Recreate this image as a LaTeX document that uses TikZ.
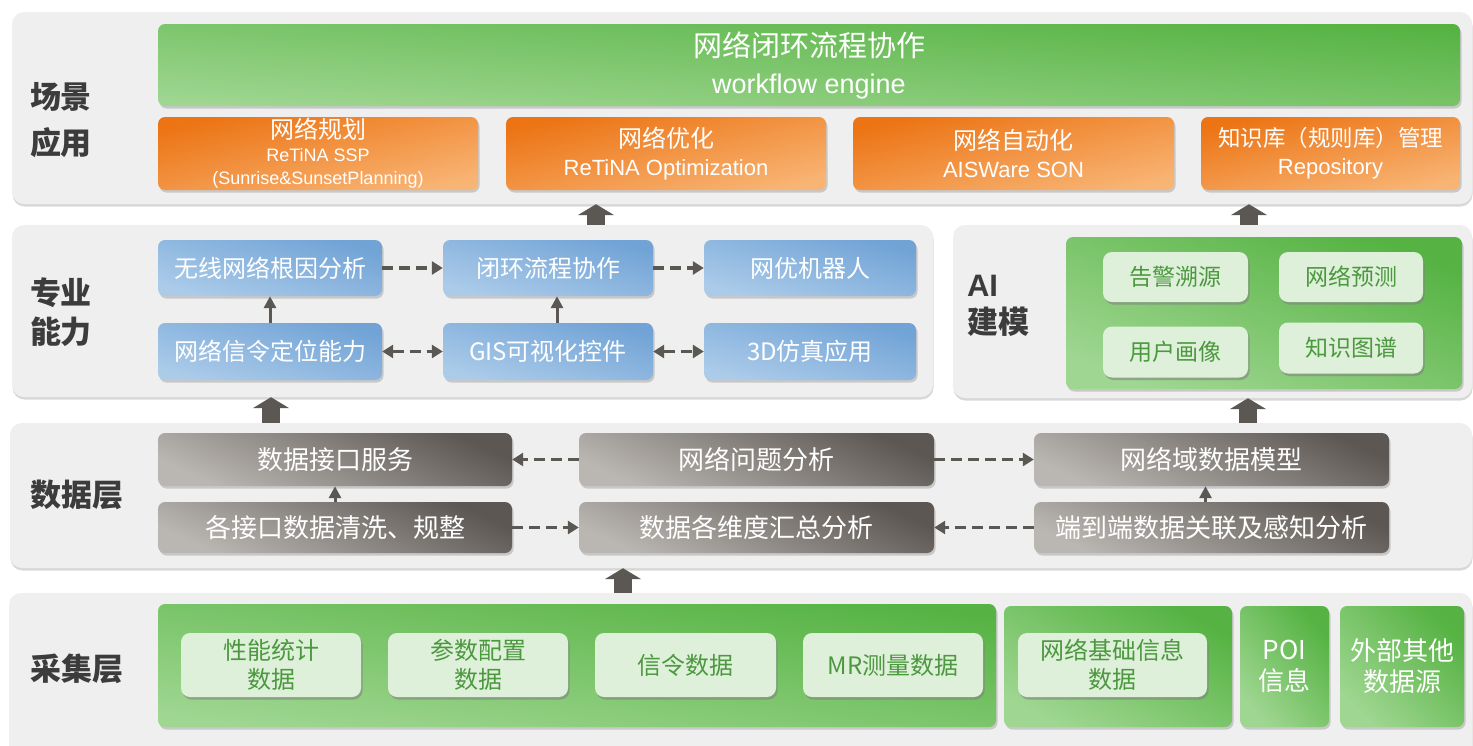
\documentclass[tikz,border=0pt]{standalone}
\usepackage{fontspec}
\setmainfont{Noto Sans CJK SC}
\newfontfamily\arialfont{Liberation Sans}
\usetikzlibrary{shadows,arrows.meta}
\definecolor{panelgray}{HTML}{EFEFEF}
\definecolor{gdark}{HTML}{56B343}
\definecolor{glight}{HTML}{9FD691}
\definecolor{odark}{HTML}{EC7414}
\definecolor{olight}{HTML}{F8B474}
\definecolor{bdark}{HTML}{71A3D6}
\definecolor{blight}{HTML}{ABCBE9}
\definecolor{ddark}{HTML}{5C5753}
\definecolor{dlight}{HTML}{BAB6B2}
\definecolor{boxgreen}{HTML}{DEF0D9}
\definecolor{txtgreen}{HTML}{4C983F}
\definecolor{arrowgray}{HTML}{5B5753}
\definecolor{labelgray}{HTML}{3C3C3C}

\tikzset{
  panel/.style={fill=panelgray, rounded corners=12pt, inner sep=0pt,
    drop shadow={shadow xshift=0.5pt, shadow yshift=-2.5pt, opacity=.3}},
  box/.style={rounded corners=7pt, inner sep=0pt, align=center, text=white,
    drop shadow={shadow xshift=1.5pt, shadow yshift=-2.5pt, opacity=.35}},
  greenbox/.style={box, top color=gdark, bottom color=glight, shading angle=-#1},
  greenbox/.default=20,
  orangebox/.style={box, top color=odark, bottom color=olight, shading angle=13,
    font=\fontsize{24}{28}\selectfont},
  bluebox/.style={box, top color=bdark, bottom color=blight, shading angle=-16,
    font=\fontsize{24}{28}\selectfont},
  databox/.style={box, top color=ddark, bottom color=dlight, shading angle=-25,
    font=\fontsize{26}{30}\selectfont},
  lightbox/.style={box, fill=boxgreen, text=txtgreen, rounded corners=9pt,
    drop shadow={shadow xshift=1.5pt, shadow yshift=-2.5pt, opacity=.3}},
  layerlabel/.style={text=labelgray, font=\bfseries\fontsize{31}{46}\selectfont, align=center},
  dasharrow/.style={draw=arrowgray, line width=3.5pt, dash pattern=on 11pt off 6pt,
    -{Triangle[length=11pt,width=13pt]}},
  dashboth/.style={dasharrow, {Triangle[length=11pt,width=13pt]}-{Triangle[length=11pt,width=13pt]}},
  solidarrow/.style={draw=arrowgray, line width=3pt, -{Triangle[length=12pt,width=12pt]}},
  blockarrow/.style={draw=arrowgray, line width=18pt, -{Triangle[length=11pt,width=36pt]}}
}

\begin{document}
\begin{tikzpicture}[x=1pt,y=-1pt]
\useasboundingbox[fill=white] (0,0) rectangle (1473,745);

% layer panels
\node[panel, minimum width=1460pt, minimum height=192pt] (scene) at (742,108) {};
\node[panel, minimum width=921pt, minimum height=172pt] (prof) at (472.5,311) {};
\node[panel, minimum width=519pt, minimum height=173pt] (ai) at (1212.5,311.5) {};
\node[panel, minimum width=1462pt, minimum height=145pt] (data) at (741,495.5) {};
\node[panel, minimum width=1463pt, minimum height=170pt] (coll) at (740.5,678) {};

% layer names
\node[layerlabel] (lscene) at (61,120) {场景\\应用};
\node[layerlabel, font=\bfseries\fontsize{31}{39}\selectfont] (lprof) at (61,312) {专业\\能力};
\node[layerlabel, align=left, font=\bfseries\fontsize{31}{37}\selectfont] (lai) at (998,306)
  {{\arialfont\bfseries AI}\\建模};
\node[layerlabel] (ldata) at (77,495) {数据层};
\node[layerlabel] (lcoll) at (77,669) {采集层};

% scene layer
\node[greenbox=4, minimum width=1302pt, minimum height=82pt, font=\fontsize{29}{37}\selectfont]
  (flow) at (809,65) {网络闭环流程协作\\{\arialfont\fontsize{27}{37}\selectfont workflow engine}};
\node[orangebox, minimum width=320pt, minimum height=73pt] (plan) at (318,153.5)
  {网络规划\\[-5pt]{\arialfont\fontsize{18}{23}\selectfont ReTiNA SSP}\\[-5pt]
   {\arialfont\fontsize{18}{23}\selectfont (Sunrise\&SunsetPlanning)}};
\node[orangebox, minimum width=320pt, minimum height=73pt] (opt) at (666,153.5)
  {网络优化\\{\arialfont\fontsize{22}{28}\selectfont ReTiNA Optimization}};
\node[orangebox, minimum width=321pt, minimum height=73pt] (son) at (1013.5,153.5)
  {网络自动化\\{\arialfont\fontsize{22}{28}\selectfont AISWare SON}};
\node[orangebox, minimum width=259pt, minimum height=73pt, font=\fontsize{22.5}{28}\selectfont]
  (repo) at (1330.5,153.5) {知识库（规则库）管理\\{\arialfont\fontsize{22}{28}\selectfont Repository}};

% professional capability
\node[bluebox, minimum width=224pt, minimum height=56pt] (rca) at (270,268) {无线网络根因分析};
\node[bluebox, minimum width=210pt, minimum height=56pt] (loop) at (548,268) {闭环流程协作};
\node[bluebox, minimum width=212pt, minimum height=56pt] (robot) at (810,268) {网优机器人};
\node[bluebox, minimum width=224pt, minimum height=57pt] (sig) at (270,351.5) {网络信令定位能力};
\node[bluebox, minimum width=210pt, minimum height=57pt] (gis) at (548,351.5) {GIS可视化控件};
\node[bluebox, minimum width=212pt, minimum height=57pt] (sim) at (810,351.5) {3D仿真应用};

\draw[dasharrow] (rca.east) -- (loop.west);
\draw[dasharrow] (loop.east) -- (robot.west);
\draw[dashboth] (sig.east) -- (gis.west);
\draw[dashboth] (gis.east) -- (sim.west);
\draw[solidarrow] (sig.north) -- (rca.south);
\draw[solidarrow] ([xshift=9pt]gis.north) -- ([xshift=9pt]loop.south);

% AI modelling
\node[greenbox=21, minimum width=396pt, minimum height=152pt] (aibg) at (1264,313) {};
\node[lightbox, minimum width=145pt, minimum height=50pt, font=\fontsize{23}{28}\selectfont]
  (alarm) at (1175.5,277) {告警溯源};
\node[lightbox, minimum width=144pt, minimum height=50pt, font=\fontsize{23}{28}\selectfont]
  (pred) at (1351,277) {网络预测};
\node[lightbox, minimum width=145pt, minimum height=51pt, font=\fontsize{23}{28}\selectfont]
  (user) at (1175.5,352) {用户画像};
\node[lightbox, minimum width=144pt, minimum height=51pt, font=\fontsize{23}{28}\selectfont]
  (kg) at (1351,348) {知识图谱};

% data layer
\node[databox, minimum width=354pt, minimum height=53pt] (dif) at (335,459.5) {数据接口服务};
\node[databox, minimum width=355pt, minimum height=53pt] (prob) at (756.5,459.5) {网络问题分析};
\node[databox, minimum width=355pt, minimum height=53pt] (model) at (1211.5,459.5) {网络域数据模型};
\node[databox, minimum width=354pt, minimum height=51pt] (clean) at (335,527.5) {各接口数据清洗、规整};
\node[databox, minimum width=355pt, minimum height=51pt] (agg) at (756.5,527.5) {数据各维度汇总分析};
\node[databox, minimum width=355pt, minimum height=51pt] (e2e) at (1211.5,527.5) {端到端数据关联及感知分析};

\draw[dasharrow] (prob.west) -- (dif.east);
\draw[dasharrow] (prob.east) -- (model.west);
\draw[dasharrow] (clean.east) -- (agg.west);
\draw[dasharrow] (e2e.west) -- (agg.east);
\draw[solidarrow] (clean.north) -- (dif.south);
\draw[solidarrow] ([xshift=-6pt]e2e.north) -- ([xshift=-6pt]model.south);

% collection layer
\node[greenbox=8, minimum width=838pt, minimum height=123pt] (cg1) at (577,665.5) {};
\node[greenbox=28, minimum width=228pt, minimum height=121pt] (cg2) at (1118,666.5) {};
\node[greenbox=50, minimum width=89pt, minimum height=121pt, font=\fontsize{26}{31}\selectfont]
  (poi) at (1284.5,666.5) {POI\\信息};
\node[greenbox=45, minimum width=124pt, minimum height=121pt, font=\fontsize{26}{31}\selectfont]
  (ext) at (1402,666.5) {外部其他\\数据源};
\node[lightbox, minimum width=180pt, minimum height=64pt, font=\fontsize{24}{29}\selectfont]
  (perf) at (271,665) {性能统计\\数据};
\node[lightbox, minimum width=180pt, minimum height=64pt, font=\fontsize{24}{29}\selectfont]
  (param) at (478,665) {参数配置\\数据};
\node[lightbox, minimum width=181pt, minimum height=64pt, font=\fontsize{24}{29}\selectfont]
  (sigd) at (685.5,665) {信令数据};
\node[lightbox, minimum width=180pt, minimum height=64pt, font=\fontsize{24}{29}\selectfont]
  (mr) at (893,665) {MR测量数据};
\node[lightbox, minimum width=189pt, minimum height=64pt, font=\fontsize{24}{29}\selectfont]
  (base) at (1112.5,665) {网络基础信息\\数据};

% block arrows between layers
\coordinate (up1) at (596,0);
\coordinate (up2) at (1249,0);
\coordinate (up3) at (271,0);
\coordinate (up4) at (1248,0);
\coordinate (up5) at (623,0);
\draw[blockarrow] (up1 |- prof.north) -- (up1 |- scene.south);
\draw[blockarrow] (up2 |- ai.north) -- (up2 |- scene.south);
\draw[blockarrow] (up3 |- data.north) -- (up3 |- prof.south);
\draw[blockarrow] (up4 |- data.north) -- (up4 |- ai.south);
\draw[blockarrow] (up5 |- coll.north) -- (up5 |- data.south);
\end{tikzpicture}
\end{document}
